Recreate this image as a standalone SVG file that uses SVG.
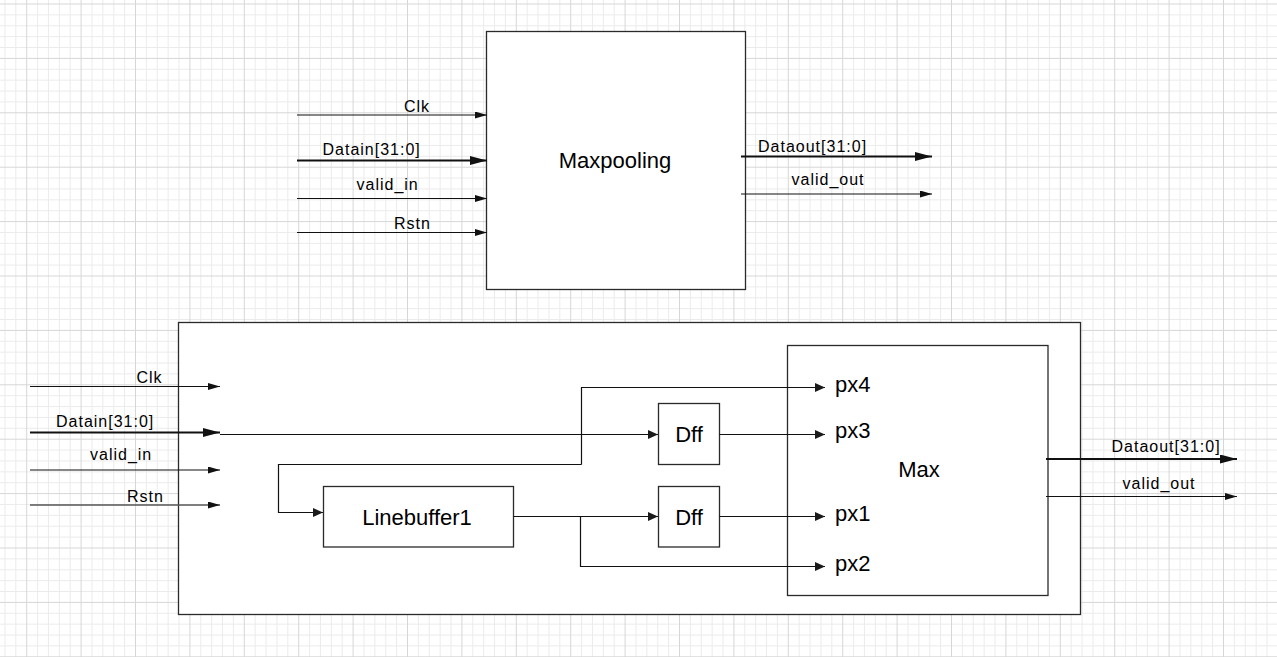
<svg xmlns="http://www.w3.org/2000/svg" width="1277" height="657" viewBox="0 0 1277 657">
  <style>
    .box { fill: #ffffff; stroke: #2a2a2a; stroke-width: 1.3; }
    .w { fill: none; stroke: #111; stroke-width: 1.2; }
    .bus { fill: none; stroke: #111; stroke-width: 2.2; }
    .pin { font-family: "Liberation Sans", Arial, sans-serif; font-size: 16px; letter-spacing: 1px; fill: #000; }
    .name { font-family: "Liberation Sans", Arial, sans-serif; font-size: 22px; fill: #000; }
  </style>
  <defs>
    <pattern id="grid" patternUnits="userSpaceOnUse" x="26.2" y="3.5" width="54.4" height="54.4">
      <path d="M11.38,0 V54.4 M22.26,0 V54.4 M33.14,0 V54.4 M44.02,0 V54.4 M0,11.38 H54.4 M0,22.26 H54.4 M0,33.14 H54.4 M0,44.02 H54.4" stroke="#ebebeb" stroke-width="1" fill="none"/>
      <path d="M0.5,0 V54.4 M0,0.5 H54.4" stroke="#d6d6d6" stroke-width="1" fill="none"/>
    </pattern>
    <marker id="aThin" markerUnits="userSpaceOnUse" markerWidth="12" markerHeight="7" refX="12" refY="3.5" orient="auto">
      <path d="M0,0 L12,3.5 L0,7 Z" fill="#111"/>
    </marker>
    <marker id="aBus" markerUnits="userSpaceOnUse" markerWidth="17" markerHeight="9" refX="17" refY="4.5" orient="auto">
      <path d="M0,0 L17,4.5 L0,9 Z" fill="#111"/>
    </marker>
    <marker id="aIn" markerUnits="userSpaceOnUse" markerWidth="10" markerHeight="9" refX="10" refY="4.5" orient="auto">
      <path d="M0,0 L10,4.5 L0,9 Z" fill="#1a1a1a"/>
    </marker>
  </defs>

  <rect x="0" y="0" width="1277" height="657" fill="#ffffff"/>
  <rect x="0" y="0" width="1277" height="657" fill="url(#grid)"/>

  <g id="maxpooling">
    <rect class="box" x="486.5" y="31.5" width="259" height="258"/>
    <text class="name" x="615" y="168" text-anchor="middle">Maxpooling</text>
  </g>

  <g id="top-module">
    <rect class="box" x="178.5" y="322.5" width="902" height="292"/>
  </g>

  <g id="max">
    <rect class="box" x="787.5" y="345.5" width="260.5" height="250"/>
    <text class="name" x="919" y="477" text-anchor="middle">Max</text>
    <text class="name" x="835" y="392">px4</text>
    <text class="name" x="835" y="438">px3</text>
    <text class="name" x="835" y="521">px1</text>
    <text class="name" x="835" y="571">px2</text>
  </g>

  <g id="linebuffer1">
    <rect class="box" x="323.5" y="486.5" width="190" height="60.5"/>
    <text class="name" x="417" y="525" text-anchor="middle">Linebuffer1</text>
  </g>

  <g id="dff1">
    <rect class="box" x="658.5" y="403.5" width="61" height="61"/>
    <text class="name" x="689" y="442" text-anchor="middle">Dff</text>
  </g>

  <g id="dff2">
    <rect class="box" x="658.5" y="486.5" width="61" height="60.5"/>
    <text class="name" x="689" y="524.5" text-anchor="middle">Dff</text>
  </g>

  <g id="connectors">
    <!-- top module pins -->
    <line class="w" x1="297" y1="115" x2="487" y2="115" marker-end="url(#aThin)"/>
    <line class="bus" x1="297" y1="160.5" x2="487" y2="160.5" marker-end="url(#aBus)"/>
    <line class="w" x1="297" y1="198.5" x2="487" y2="198.5" marker-end="url(#aThin)"/>
    <line class="w" x1="297" y1="232.5" x2="487" y2="232.5" marker-end="url(#aThin)"/>
    <line class="bus" x1="741" y1="156.5" x2="932" y2="156.5" marker-end="url(#aBus)"/>
    <line class="w" x1="741" y1="194" x2="932" y2="194" marker-end="url(#aThin)"/>

    <!-- lower module inputs -->
    <line class="w" x1="30" y1="386.5" x2="220" y2="386.5" marker-end="url(#aThin)"/>
    <line class="bus" x1="30" y1="432.5" x2="220" y2="432.5" marker-end="url(#aBus)"/>
    <line class="w" x1="30" y1="470" x2="220" y2="470" marker-end="url(#aThin)"/>
    <line class="w" x1="30" y1="505" x2="220" y2="505" stroke="#555" style="stroke:#555;stroke-width:1.6" marker-end="url(#aThin)"/>

    <!-- internal -->
    <path class="w" d="M220,434.5 H658" marker-end="url(#aIn)"/>
    <path class="w" d="M581.5,464.5 H278.5 V512.5 H323" marker-end="url(#aIn)"/>
    <path class="w" d="M581.5,464.5 V387.5 H825" marker-end="url(#aIn)"/>
    <path class="w" d="M719.5,434.5 H825" marker-end="url(#aIn)"/>
    <path class="w" d="M513.5,516.5 H658" marker-end="url(#aIn)"/>
    <path class="w" d="M580.5,516.5 V566.5 H825" marker-end="url(#aIn)"/>
    <path class="w" d="M719.5,516.5 H825" marker-end="url(#aIn)"/>

    <!-- lower module outputs -->
    <line class="bus" x1="1046" y1="459" x2="1237" y2="459" marker-end="url(#aBus)"/>
    <line class="w" x1="1046" y1="496.5" x2="1237" y2="496.5" marker-end="url(#aThin)"/>
  </g>

  <g id="pin-labels">
    <text class="pin" x="404" y="112">Clk</text>
    <text class="pin" x="322.5" y="155">Datain[31:0]</text>
    <text class="pin" x="356.5" y="190">valid_in</text>
    <text class="pin" x="394" y="229">Rstn</text>
    <text class="pin" x="758" y="151.5">Dataout[31:0]</text>
    <text class="pin" x="791.5" y="185">valid_out</text>

    <text class="pin" x="136.5" y="383">Clk</text>
    <text class="pin" x="56" y="426.5">Datain[31:0]</text>
    <text class="pin" x="90" y="460">valid_in</text>
    <text class="pin" x="127" y="501.5">Rstn</text>
    <text class="pin" x="1111.5" y="451.5">Dataout[31:0]</text>
    <text class="pin" x="1122.5" y="489">valid_out</text>
  </g>
</svg>
